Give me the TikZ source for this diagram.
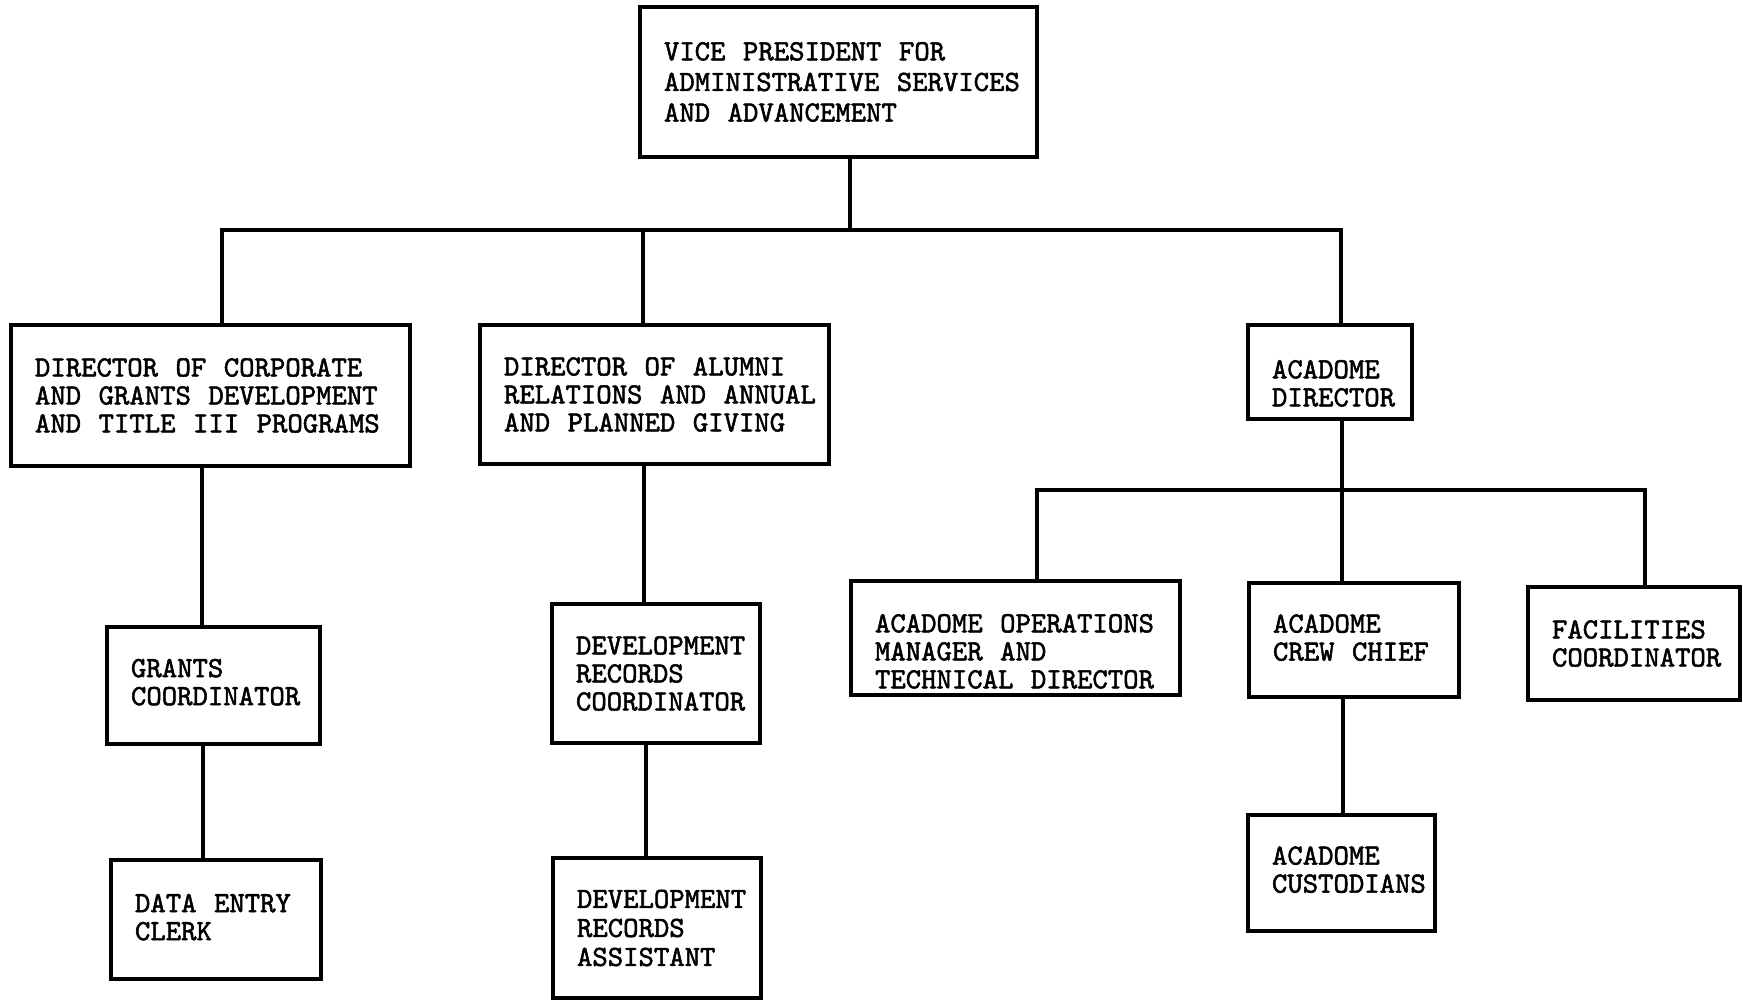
\documentclass[tikz,border=0pt]{standalone}
\usepackage{fontspec}
\newfontfamily\boxface{lmmono10-regular.otf}[FakeBold=1.8]
\newcommand{\boxfnt}{\boxface\fontsize{29.3}{28}\selectfont}
\hyphenpenalty=10000
\exhyphenpenalty=10000
\newcommand{\dn}[1]{\rule[-#1]{0pt}{0pt}}
\newcommand{\ws}{\nobreak\hspace{17.5pt}\nobreak}
\begin{document}
\tikzset{
  box/.style={draw, line width=3.2pt, align=left, inner xsep=24pt, inner ysep=0pt,
    font=\boxfnt},
  link/.style={line width=3.2pt},
}
\begin{tikzpicture}[x=1pt,y=-1pt]
\useasboundingbox (0,0) rectangle (1743,1000);
% boxes
\node[box, text width=349pt, minimum height=150pt,
      font=\boxface\fontsize{29.3}{30.6}\selectfont] (vp) at (838.5,82)
  {VICE\ws PRESIDENT\ws FOR\\ADMINISTRATIVE\ws SERVICES\\AND\ws ADVANCEMENT};
\node[box, text width=351pt, minimum height=141pt] (A) at (210.5,395.5)
  {DIRECTOR\ws OF\ws CORPORATE\\AND\ws GRANTS\ws DEVELOPMENT\\AND\ws TITLE\ws III\ws PROGRAMS};
\node[box, text width=301pt, minimum height=139pt] (B) at (654.5,394.5)
  {DIRECTOR\ws OF\ws ALUMNI\\RELATIONS\ws AND\ws ANNUAL\\AND\ws PLANNED\ws GIVING};
\node[box, text width=116pt, minimum height=94pt] (C) at (1330,372)
  {\rule{0pt}{41pt}ACADOME\\DIRECTOR};
\node[box, text width=281pt, minimum height=114pt] (D) at (1015.5,638)
  {\rule{0pt}{45pt}ACADOME\ws OPERATIONS\\MANAGER\ws AND\\TECHNICAL\ws DIRECTOR};
\node[box, text width=162pt, minimum height=114pt] (E) at (1354,640)
  {ACADOME\\CREW\ws CHIEF\dn{5pt}};
\node[box, text width=164pt, minimum height=113pt] (F) at (1634,643.5)
  {FACILITIES\\COORDINATOR};
\node[box, text width=165pt, minimum height=117pt] (G) at (213.5,685.5)
  {GRANTS\\COORDINATOR\dn{7pt}};
\node[box, text width=162pt, minimum height=119pt] (H) at (216,919.5)
  {DATA\ws ENTRY\\CLERK\dn{5pt}};
\node[box, text width=160pt, minimum height=139pt] (I) at (656,673.5)
  {DEVELOPMENT\\RECORDS\\COORDINATOR};
\node[box, text width=160pt, minimum height=140pt,
      font=\boxface\fontsize{29.3}{29}\selectfont] (J) at (657,928)
  {DEVELOPMENT\\RECORDS\\ASSISTANT};
\node[box, text width=139pt, minimum height=116pt] (K) at (1341.5,873)
  {ACADOME\\CUSTODIANS\dn{7pt}};
% junction coordinates
\coordinate (bL) at (222,230);
\coordinate (bM) at (643,230);
\coordinate (bV) at (850,230);
\coordinate (bR) at (1341,230);
\coordinate (dL) at (1037,490);
\coordinate (dM) at (1342,490);
\coordinate (dR) at (1645,490);
\coordinate (xA) at (202,0);
\coordinate (xG) at (203,0);
\coordinate (xB) at (644,0);
\coordinate (xI) at (646,0);
\coordinate (xE) at (1343,0);
% connectors
\draw[link] (A.north -| bL) -- (bL) -- (bR) -- (C.north -| bR);
\draw[link] (vp.south -| bV) -- (bV);
\draw[link] (bM) -- (B.north -| bM);
\draw[link] (D.north -| dL) -- (dL) -- (dR) -- (F.north -| dR);
\draw[link] (C.south -| dM) -- (E.north -| dM);
\draw[link] (E.south -| xE) -- (K.north -| xE);
\draw[link] (A.south -| xA) -- (G.north -| xA);
\draw[link] (G.south -| xG) -- (H.north -| xG);
\draw[link] (B.south -| xB) -- (I.north -| xB);
\draw[link] (I.south -| xI) -- (J.north -| xI);
\end{tikzpicture}
\end{document}
